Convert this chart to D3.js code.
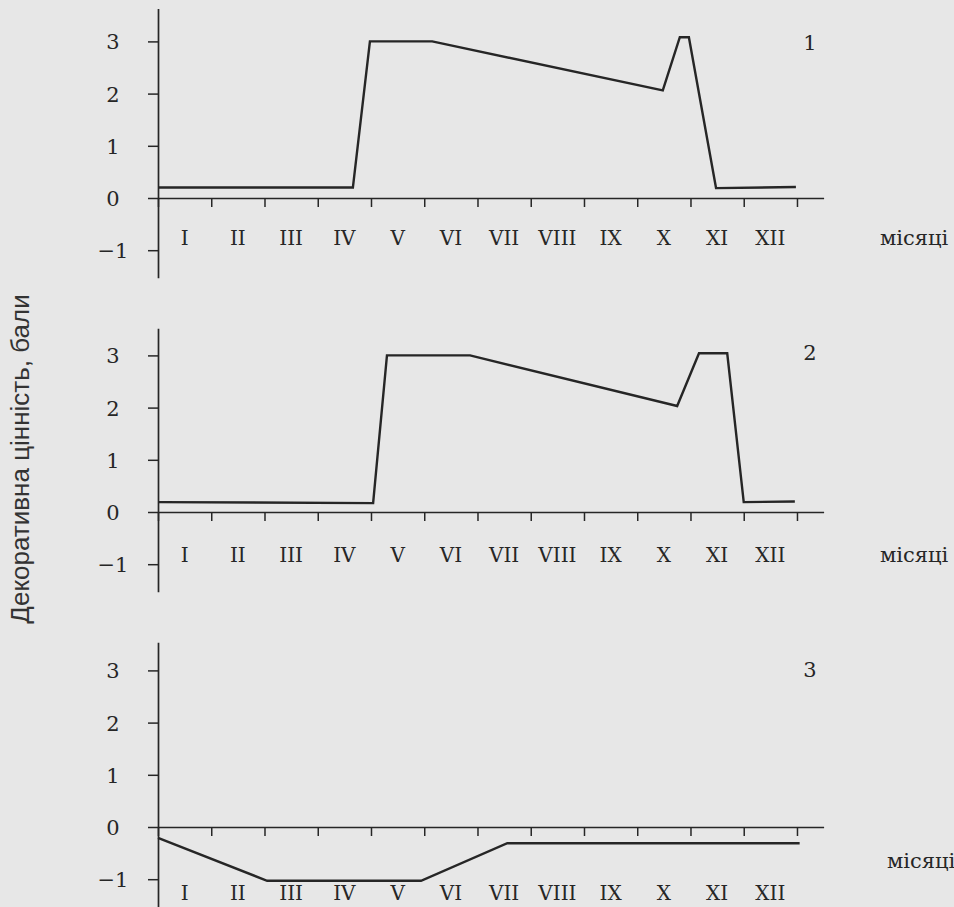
<!DOCTYPE html>
<html>
<head>
<meta charset="utf-8">
<script src="https://cdn.jsdelivr.net/npm/d3@7"></script>
<style>
  html, body { margin: 0; padding: 0; background: #e7e7e7; }
  svg { display: block; }
</style>
</head>
<body>
<svg id="chart" width="954" height="907"></svg>
<script>
// ---- data ----
const months = ["I","II","III","IV","V","VI","VII","VIII","IX","X","XI","XII"];
const yTicks = [-1, 0, 1, 2, 3];
const panelLabels = ["1", "2", "3"];
const axisTitle = "Декоративна цінність, бали";
const xTitle = "місяці";

// month position (0 = start of January, 12 = end of December) and score
const series1Month = [0, 3.66, 3.98, 5.15, 9.48, 9.80, 9.97, 10.48, 11.98];
const series1Value = [0.2, 0.2, 3.0, 3.0, 2.06, 3.08, 3.08, 0.19, 0.21];

const series2Month = [0, 4.04, 4.30, 5.86, 9.75, 10.16, 10.69, 11.0, 11.96];
const series2Value = [0.19, 0.17, 3.0, 3.0, 2.03, 3.04, 3.04, 0.19, 0.2];

const series3Month = [0, 2.05, 4.94, 6.56, 12.05];
const series3Value = [-0.21, -1.03, -1.03, -0.31, -0.31];

// ---- layout ----
const ink = "#262626";
const serif = "'DejaVu Serif', 'Liberation Serif', serif";
const svg = d3.select("#chart");
const x = d3.scaleLinear().domain([0, 12.5]).range([158, 823.6]);
const unit = 52.2;
const panels = [
  { zero: 198, top: 3.63, monthY: 245, titleX: 880, titleY: 245, labelY: 50,
    mx: series1Month, my: series1Value },
  { zero: 512, top: 3.52, monthY: 562, titleX: 880, titleY: 562, labelY: 360,
    mx: series2Month, my: series2Value },
  { zero: 827, top: 3.54, monthY: 900, titleX: 887, titleY: 868, labelY: 677,
    mx: series3Month, my: series3Value }
];

panels.forEach((p, i) => {
  const lo = -1.53;
  const y = d3.scaleLinear().domain([lo, p.top])
    .range([p.zero - lo * unit, p.zero - p.top * unit]);
  const g = svg.append("g");

  // y axis
  const ya = g.append("g")
    .attr("transform", `translate(${x(0)},0)`)
    .call(d3.axisLeft(y).tickValues(yTicks).tickSize(10).tickSizeOuter(0)
      .tickFormat(d => d < 0 ? "\u2212" + Math.abs(d) : d));
  ya.select(".domain").attr("stroke", ink).attr("stroke-width", 1.7);
  ya.selectAll(".tick line").attr("stroke", ink).attr("stroke-width", 1.5);
  ya.selectAll(".tick text")
    .attr("x", -45).attr("text-anchor", "middle").attr("dy", "0.36em")
    .attr("fill", ink)
    .style("font-family", serif).style("font-size", "21px");

  // x axis at zero
  const xa = g.append("g")
    .attr("transform", `translate(0,${y(0)})`)
    .call(d3.axisBottom(x).tickValues(d3.range(0, 13)).tickSize(9)
      .tickSizeOuter(0).tickFormat(""));
  xa.select(".domain").attr("stroke", ink).attr("stroke-width", 1.7);
  xa.selectAll(".tick line").attr("stroke", ink).attr("stroke-width", 1.5);

  // month labels
  g.selectAll("text.month").data(months).join("text")
    .attr("class", "month")
    .attr("x", (d, k) => x(k + 0.5))
    .attr("y", p.monthY)
    .attr("text-anchor", "middle")
    .attr("fill", ink)
    .style("font-family", serif).style("font-size", "20px")
    .text(d => d);

  // x title
  g.append("text")
    .attr("x", p.titleX).attr("y", p.titleY)
    .attr("fill", ink)
    .style("font-family", serif).style("font-size", "21px")
    .text(xTitle);

  // panel label
  g.append("text")
    .attr("x", 810).attr("y", p.labelY)
    .attr("text-anchor", "middle")
    .attr("fill", ink)
    .style("font-family", serif).style("font-size", "21px")
    .text(panelLabels[i]);

  // data line
  const pts = p.mx.map((m, k) => [m, p.my[k]]);
  g.append("path")
    .datum(pts)
    .attr("fill", "none")
    .attr("stroke", ink)
    .attr("stroke-width", 2.4)
    .attr("stroke-linejoin", "miter")
    .attr("d", d3.line().x(d => x(d[0])).y(d => y(d[1])));
});

// shared y title
svg.append("text")
  .attr("transform", "translate(29,459) rotate(-90)")
  .attr("text-anchor", "middle")
  .attr("fill", "#333")
  .style("font-family", "'Liberation Sans', Arial, sans-serif")
  .style("font-size", "26px")
  .text(axisTitle);
</script>
</body>
</html>
